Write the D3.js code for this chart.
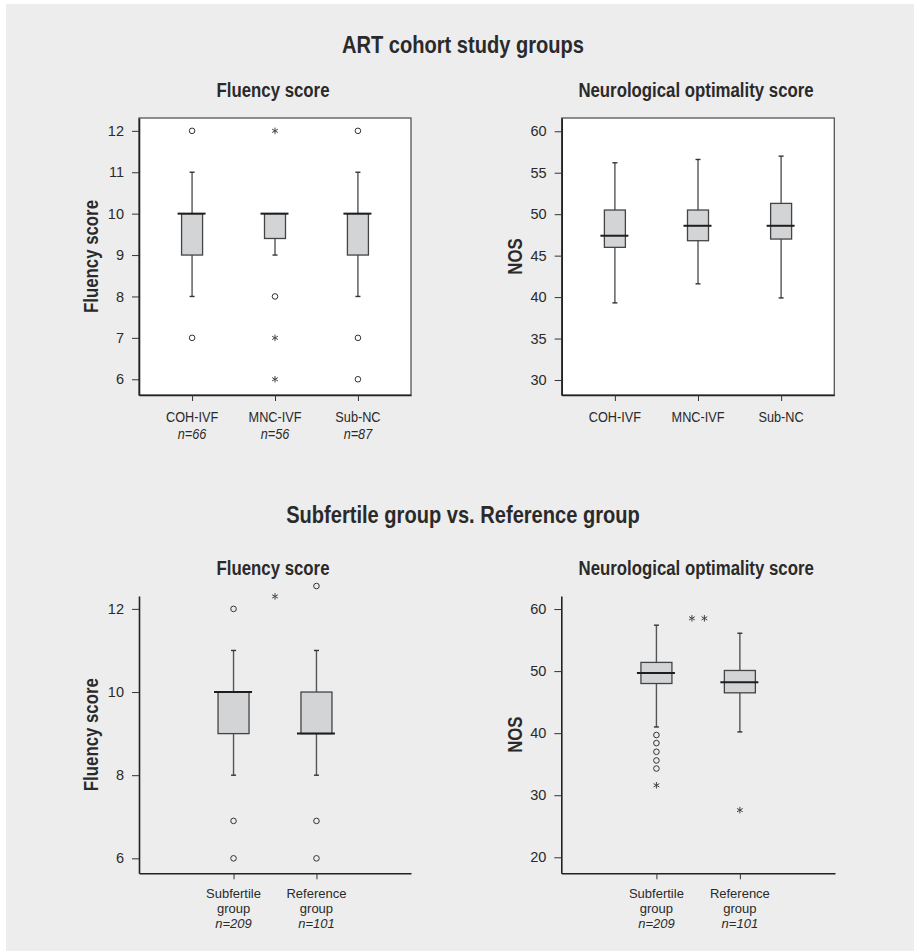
<!DOCTYPE html>
<html><head><meta charset="utf-8">
<script src="https://cdn.jsdelivr.net/npm/d3@7"></script>
<style>
body{margin:0;background:#fff;}
text{font-family:"Liberation Sans",Arial,sans-serif;fill:#2a2a2a;}
</style></head><body>
<svg id="chart" width="914" height="951"></svg>
<script>
// ---------- DATA ----------
const cohortGroups = ["COH-IVF", "MNC-IVF", "Sub-NC"];
const cohortN = ["n=66", "n=56", "n=87"];
const compareGroups = ["Subfertile group", "Reference group"];
const compareN = ["n=209", "n=101"];

const fluencyTicksTop = [6, 7, 8, 9, 10, 11, 12];
const nosTicksTop = [30, 35, 40, 45, 50, 55, 60];
const fluencyTicksBottom = [6, 8, 10, 12];
const nosTicksBottom = [20, 30, 40, 50, 60];

const cohortFluency = [
  {group: "COH-IVF", low: 8, q1: 9, median: 10, q3: 10, high: 11},
  {group: "MNC-IVF", low: 9, q1: 9.4, median: 10, q3: 10, high: 10},
  {group: "Sub-NC", low: 8, q1: 9, median: 10, q3: 10, high: 11}
];
const cohortFluencyOutliers = [
  {group: "COH-IVF", value: 12, kind: "circle"},
  {group: "COH-IVF", value: 7, kind: "circle"},
  {group: "MNC-IVF", value: 12, kind: "star"},
  {group: "MNC-IVF", value: 8, kind: "circle"},
  {group: "MNC-IVF", value: 7, kind: "star"},
  {group: "MNC-IVF", value: 6, kind: "star"},
  {group: "Sub-NC", value: 12, kind: "circle"},
  {group: "Sub-NC", value: 7, kind: "circle"},
  {group: "Sub-NC", value: 6, kind: "circle"}
];
const cohortNOS = [
  {group: "COH-IVF", low: 39.3, q1: 46.0, median: 47.4, q3: 50.5, high: 56.2},
  {group: "MNC-IVF", low: 41.6, q1: 46.8, median: 48.6, q3: 50.5, high: 56.6},
  {group: "Sub-NC", low: 39.9, q1: 47.0, median: 48.6, q3: 51.3, high: 57.0}
];
const cohortNOSOutliers = [];

const compareFluency = [
  {group: "Subfertile group", low: 8, q1: 9, median: 10, q3: 10, high: 11},
  {group: "Reference group", low: 8, q1: 9, median: 9, q3: 10, high: 11}
];
const compareFluencyOutliers = [
  {group: "Subfertile group", value: 12, kind: "circle"},
  {group: "Subfertile group", value: 6.9, kind: "circle"},
  {group: "Subfertile group", value: 6, kind: "circle"},
  {group: "Reference group", value: 12.55, kind: "circle"},
  {group: "Reference group", value: 6.9, kind: "circle"},
  {group: "Reference group", value: 6, kind: "circle"}
];
const compareNOS = [
  {group: "Subfertile group", low: 41.0, q1: 48.0, median: 49.7, q3: 51.4, high: 57.4},
  {group: "Reference group", low: 40.2, q1: 46.5, median: 48.2, q3: 50.1, high: 56.1}
];
const compareNOSOutliers = [
  {group: "Subfertile group", value: 39.7, kind: "circle"},
  {group: "Subfertile group", value: 38.4, kind: "circle"},
  {group: "Subfertile group", value: 37.0, kind: "circle"},
  {group: "Subfertile group", value: 35.6, kind: "circle"},
  {group: "Subfertile group", value: 34.3, kind: "circle"},
  {group: "Subfertile group", value: 31.6, kind: "star"},
  {group: "Reference group", value: 27.6, kind: "star"}
];
const compareFluencySig = [{from: "Subfertile group", to: "Reference group", value: 12.3, stars: 1}];
const compareNOSSig = [{from: "Subfertile group", to: "Reference group", value: 58.5, stars: 2}];

// ---------- LAYOUT ----------
const NARROW = 0.82; // horizontal squeeze to imitate a condensed face
const svg = d3.select("#chart");
svg.append("rect").attr("x", 6).attr("y", 4).attr("width", 908).attr("height", 947).attr("fill", "#ededed");

function ntext(parent, x, y, str, size, opts = {}) {
  const rot = opts.rotate ? " rotate(-90)" : "";
  return parent.append("text")
    .attr("transform", `translate(${x},${y})${rot} scale(${NARROW},1)`)
    .attr("text-anchor", opts.anchor || "middle")
    .style("font-size", size + "px")
    .style("font-weight", opts.bold ? "bold" : "normal")
    .style("font-style", opts.italic ? "italic" : "normal")
    .text(str);
}

const sectionTitles = [
  {text: "ART cohort study groups", y: 53},
  {text: "Subfertile group vs. Reference group", y: 523}
];
sectionTitles.forEach(t => ntext(svg, 463, t.y, t.text, 24.5, {bold: true}));

const panels = [
  {stats: cohortFluency, outliers: cohortFluencyOutliers, sig: [], groups: cohortGroups, ns: cohortN, ticks: fluencyTicksTop,
   x0: 139, x1: 411, y0: 118, y1: 395, domain: [5.62, 12.31], framed: true, pad: 0.64, boxW: 21,
   title: "Fluency score", ylabel: "Fluency score", labelX: 98},
  {stats: cohortNOS, outliers: cohortNOSOutliers, sig: [], groups: cohortGroups, ns: null, ticks: nosTicksTop,
   x0: 561.7, x1: 834.3, y0: 118, y1: 395, domain: [28.19, 61.6], framed: true, pad: 0.64, boxW: 21,
   title: "Neurological optimality score", ylabel: "NOS", labelX: 521.5},
  {stats: compareFluency, outliers: compareFluencyOutliers, sig: compareFluencySig, groups: compareGroups, ns: compareN, ticks: fluencyTicksBottom,
   x0: 139, x1: 411, y0: 596, y1: 873.3, domain: [5.64, 12.31], framed: false, pad: 1.14, boxW: 31,
   title: "Fluency score", ylabel: "Fluency score", labelX: 98},
  {stats: compareNOS, outliers: compareNOSOutliers, sig: compareNOSSig, groups: compareGroups, ns: compareN, ticks: nosTicksBottom,
   x0: 561.3, x1: 835, y0: 596, y1: 873.3, domain: [17.42, 62.1], framed: false, pad: 1.14, boxW: 31,
   title: "Neurological optimality score", ylabel: "NOS", labelX: 521.5}
];

const star = d3.symbol().type(d3.symbolAsterisk).size(30);

panels.forEach(p => {
  const g = svg.append("g");
  const x = d3.scalePoint().domain(p.groups).range([p.x0, p.x1]).padding(p.pad);
  const y = d3.scaleLinear().domain(p.domain).range([p.y1, p.y0]);

  if (p.framed) {
    g.append("rect").attr("x", p.x0).attr("y", p.y0)
      .attr("width", p.x1 - p.x0).attr("height", p.y1 - p.y0)
      .attr("fill", "#fff").attr("stroke", "#555").attr("stroke-width", 1.3);
  }

  // panel title and y label
  ntext(g, (p.x0 + p.x1) / 2 - 2, p.y0 - 21, p.title, 20.5, {bold: true});
  ntext(g, p.labelX, (p.y0 + p.y1) / 2, p.ylabel, 20.5, {bold: true, rotate: true});

  // axes
  const yAxis = g.append("g").attr("transform", `translate(${p.x0},0)`)
    .call(d3.axisLeft(y).tickValues(p.ticks).tickFormat(d3.format("d")).tickSize(7).tickSizeOuter(0).tickPadding(8));
  const xAxis = g.append("g").attr("transform", `translate(0,${p.y1})`)
    .call(d3.axisBottom(x).tickSize(6).tickSizeOuter(0).tickFormat(""));
  [yAxis, xAxis].forEach(a => {
    a.select(".domain").attr("stroke", "#222").attr("stroke-width", 1.6);
    a.selectAll(".tick line").attr("stroke", "#333").attr("stroke-width", 1);
    a.selectAll("text").style("font-size", "14.5px")
      .style("font-family", "'Liberation Sans',Arial,sans-serif").attr("fill", "#2a2a2a");
  });

  // category labels
  const lab = g.append("g");
  p.groups.forEach((grp, i) => {
    const lines = grp.split(" ");
    if (lines.length === 1) {
      ntext(lab, x(grp), p.y1 + 26.5, grp, 15.5);
      if (p.ns) ntext(lab, x(grp), p.y1 + 44, p.ns[i], 15.5, {italic: true});
    } else {
      lines.forEach((ln, j) => {
        lab.append("text").attr("x", x(grp)).attr("y", p.y1 + 25 + j * 14.8)
          .attr("text-anchor", "middle").style("font-size", "13px").text(ln);
      });
      if (p.ns) {
        lab.append("text").attr("x", x(grp)).attr("y", p.y1 + 25 + lines.length * 14.8)
          .attr("text-anchor", "middle").style("font-size", "13px").style("font-style", "italic")
          .text(p.ns[i]);
      }
    }
  });

  // boxes
  const bx = g.append("g");
  p.stats.forEach(s => {
    const cx = x(s.group);
    const w = p.boxW;
    bx.append("line").attr("x1", cx).attr("x2", cx).attr("y1", y(s.low)).attr("y2", y(s.high))
      .attr("stroke", "#555").attr("stroke-width", 1.4);
    [s.low, s.high].forEach(v => {
      bx.append("line").attr("x1", cx - 2.5).attr("x2", cx + 2.5).attr("y1", y(v)).attr("y2", y(v))
        .attr("stroke", "#333").attr("stroke-width", 1.4);
    });
    bx.append("rect").attr("x", cx - w / 2).attr("y", y(s.q3)).attr("width", w).attr("height", y(s.q1) - y(s.q3))
      .attr("fill", "#d3d4d5").attr("stroke", "#444").attr("stroke-width", 1.3);
    bx.append("line").attr("x1", cx - w / 2 - 4).attr("x2", cx + w / 2 + 3).attr("y1", y(s.median)).attr("y2", y(s.median))
      .attr("stroke", "#1e1e1e").attr("stroke-width", 2);
  });

  // outliers
  p.outliers.forEach(o => {
    const cx = x(o.group), cy = y(o.value);
    if (o.kind === "circle") {
      bx.append("circle").attr("cx", cx).attr("cy", cy).attr("r", 2.8)
        .attr("fill", "none").attr("stroke", "#333").attr("stroke-width", 1);
    } else {
      bx.append("path").attr("d", star).attr("transform", `translate(${cx},${cy})`)
        .attr("fill", "none").attr("stroke", "#444").attr("stroke-width", 1);
    }
  });

  // significance markers
  p.sig.forEach(sg => {
    const mx = (x(sg.from) + x(sg.to)) / 2, my = y(sg.value);
    for (let k = 0; k < sg.stars; k++) {
      const off = (k - (sg.stars - 1) / 2) * 12.5;
      bx.append("path").attr("d", star).attr("transform", `translate(${mx + off},${my})`)
        .attr("fill", "none").attr("stroke", "#444").attr("stroke-width", 1);
    }
  });
});
</script>
</body></html>
